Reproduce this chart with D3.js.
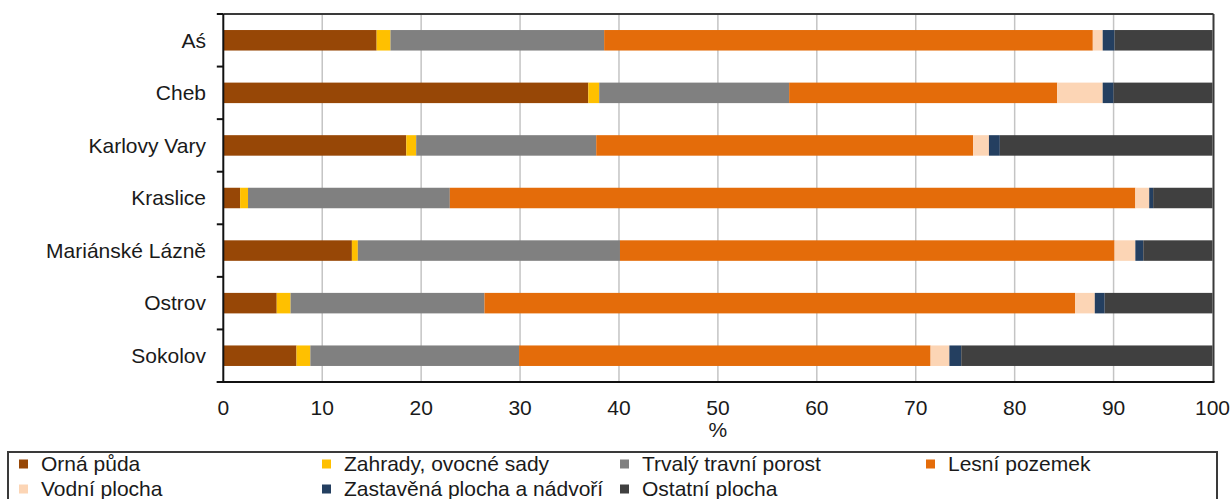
<!DOCTYPE html>
<html>
<head>
<meta charset="utf-8">
<script src="https://cdn.jsdelivr.net/npm/d3@7/dist/d3.min.js"></script>
<style>
  html, body { margin: 0; padding: 0; background: #fff; }
  svg { display: block; font-family: "Liberation Sans", Arial, sans-serif; }
</style>
</head>
<body>
<svg id="chart" width="1231" height="499"></svg>
<script>
const categories = ["Aś", "Cheb", "Karlovy Vary", "Kraslice", "Mariánské Lázně", "Ostrov", "Sokolov"];
const seriesNames = ["Orná půda", "Zahrady, ovocné sady", "Trvalý travní porost", "Lesní pozemek", "Vodní plocha", "Zastavěná plocha a nádvoří", "Ostatní plocha"];
const seriesColors = ["#974706", "#FFC000", "#808080", "#E46C0A", "#FCD5B5", "#243F60", "#404040"];
const ornaPuda      = [15.5, 36.9, 18.5, 1.7, 13.0, 5.4, 7.4];
const zahrady       = [1.4, 1.1, 1.0, 0.8, 0.6, 1.4, 1.4];
const trvalyPorost  = [21.6, 19.2, 18.2, 20.4, 26.5, 19.6, 21.1];
const lesniPozemek  = [49.4, 27.1, 38.1, 69.3, 50.0, 59.7, 41.6];
const vodniPlocha   = [1.0, 4.6, 1.6, 1.4, 2.1, 2.0, 1.9];
const zastavena     = [1.2, 1.1, 1.1, 0.4, 0.8, 1.0, 1.2];
const ostatni       = [9.9, 10.0, 21.5, 6.0, 7.0, 10.9, 25.4];
const xTicks = [0, 10, 20, 30, 40, 50, 60, 70, 80, 90, 100];
const xTitle = "%";

const seriesValues = [ornaPuda, zahrady, trvalyPorost, lesniPozemek, vodniPlocha, zastavena, ostatni];
const rows = categories.map((c, i) => {
  const r = { cat: c };
  seriesNames.forEach((s, j) => r[s] = seriesValues[j][i]);
  return r;
});
const stacked = d3.stack().keys(seriesNames)(rows);

const svg = d3.select("#chart");
const FS = 21;
const L = 223.3, R = 1212.5, T = 14, B = 382;
const x = d3.scaleLinear().domain([0, 100]).range([L, R]);
const y = d3.scaleBand().domain(categories).range([T, B]).paddingInner(0.61).paddingOuter(0.305);
const color = d3.scaleOrdinal().domain(seriesNames).range(seriesColors);

// gridlines
svg.append("g").selectAll("line").data(xTicks.slice(1, -1)).join("line")
  .attr("x1", d => x(d)).attr("x2", d => x(d))
  .attr("y1", T).attr("y2", B)
  .attr("stroke", "#c4c4c4").attr("stroke-width", 1.5);

// bars
svg.append("g").selectAll("g").data(stacked).join("g")
  .attr("fill", d => color(d.key))
  .selectAll("rect").data(d => d).join("rect")
  .attr("x", d => x(d[0]))
  .attr("width", d => Math.max(0, x(d[1]) - x(d[0])))
  .attr("y", d => y(d.data.cat))
  .attr("height", y.bandwidth());

// frame top & right
svg.append("line").attr("x1", L).attr("x2", R + 1).attr("y1", T).attr("y2", T)
  .attr("stroke", "#3a3a3a").attr("stroke-width", 2);
svg.append("line").attr("x1", R + 1).attr("x2", R + 1).attr("y1", T).attr("y2", B)
  .attr("stroke", "#3a3a3a").attr("stroke-width", 2);

// left axis with ticks at band boundaries
const boundaries = d3.range(categories.length + 1).map(i => T + i * y.step());
svg.append("line").attr("x1", L).attr("x2", L).attr("y1", T).attr("y2", B)
  .attr("stroke", "#111").attr("stroke-width", 2);
svg.append("g").selectAll("line").data(boundaries).join("line")
  .attr("x1", L - 6.5).attr("x2", L).attr("y1", d => d).attr("y2", d => d)
  .attr("stroke", "#111").attr("stroke-width", 2);

// bottom axis
svg.append("line").attr("x1", L - 6.5).attr("x2", R + 2).attr("y1", B).attr("y2", B)
  .attr("stroke", "#111").attr("stroke-width", 2);

// category labels
svg.append("g").selectAll("text").data(categories).join("text")
  .attr("x", 206).attr("y", d => y(d) + y.bandwidth() / 2)
  .attr("dy", "0.35em").attr("text-anchor", "end")
  .attr("font-size", FS).attr("fill", "#1a1a1a")
  .text(d => d);

// x tick labels
svg.append("g").selectAll("text").data(xTicks).join("text")
  .attr("x", d => x(d)).attr("y", 408).attr("dy", "0.35em")
  .attr("text-anchor", "middle").attr("font-size", FS).attr("fill", "#1a1a1a")
  .text(d => d);

svg.append("text").attr("x", x(50)).attr("y", 430).attr("dy", "0.35em")
  .attr("text-anchor", "middle").attr("font-size", FS).attr("fill", "#1a1a1a")
  .text(xTitle);

// legend
svg.append("rect").attr("x", 8).attr("y", 452).attr("width", 1209).attr("height", 60)
  .attr("fill", "none").attr("stroke", "#3a3a3a").attr("stroke-width", 2);
const legX = [19, 322, 620, 926];
const legY = [464, 489];
const leg = svg.append("g").selectAll("g").data(seriesNames).join("g")
  .attr("transform", (d, i) => `translate(${legX[i % 4]},${legY[Math.floor(i / 4)]})`);
leg.append("rect").attr("x", 0).attr("y", -4.5).attr("width", 9).attr("height", 9)
  .attr("fill", d => color(d));
leg.append("text").attr("x", 22).attr("dy", "0.35em")
  .attr("font-size", FS).attr("fill", "#1a1a1a").text(d => d);
</script>
</body>
</html>
